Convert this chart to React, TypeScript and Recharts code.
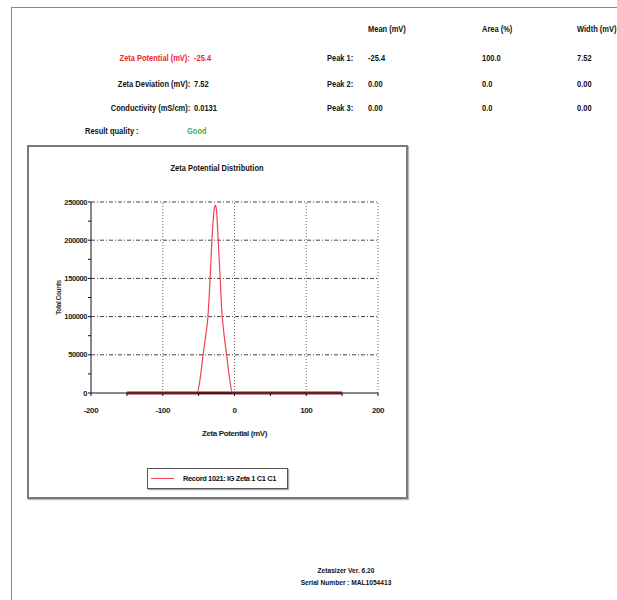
import React from 'react';
import { LineChart, Line, XAxis, YAxis, ReferenceLine } from 'recharts';

// Zeta potential distribution (mV vs total counts)
const zetaValues = [-150, -100, -60, -52, -48, -44, -40, -37, -34, -31, -28, -26.5, -25, -23, -20.5, -18, -15, -11, -7, -3, 0, 50, 100, 150];
const totalCounts = [0, 0, 0, 0, 18000, 48000, 76000, 100000, 150000, 208000, 242000, 246000, 238000, 205000, 160000, 112000, 80000, 50000, 20000, 0, 0, 0, 0, 0];

const xTicks = [-200, -150, -100, -50, 0, 50, 100, 150, 200];
const xGrid = [-100, 0, 100, 200];
const yTicks = [0, 25000, 50000, 75000, 100000, 125000, 150000, 175000, 200000, 225000, 250000];
const yGrid = [50000, 100000, 150000, 200000, 250000];

const summaryRows = [
  { label: 'Zeta Potential (mV):', value: '-25.4', color: '#e8262c' },
  { label: 'Zeta Deviation (mV):', value: '7.52', color: '#111' },
  { label: 'Conductivity (mS/cm):', value: '0.0131', color: '#111' },
];
const peakRows = [
  { name: 'Peak 1:', mean: '-25.4', area: '100.0', width: '7.52' },
  { name: 'Peak 2:', mean: '0.00', area: '0.0', width: '0.00' },
  { name: 'Peak 3:', mean: '0.00', area: '0.0', width: '0.00' },
];
const rowY = [58, 84, 108];

const seriesName = 'Record 1021: IG Zeta 1 C1 C1';

const FONT = "'Liberation Sans Narrow', 'Liberation Sans', Arial, sans-serif";
const SQUEEZE = 0.88;

const chartData = zetaValues.map((z, i) => ({ zeta: z, counts: totalCounts[i] }));

const Txt: React.FC<{ x: number; y: number; right?: boolean; center?: boolean; color?: string; size?: number; children: React.ReactNode }> = ({ x, y, right, center, color = '#111', size = 8.5, children }) => {
  const style: React.CSSProperties = {
    position: 'absolute',
    top: y - size * 0.62,
    fontSize: size,
    lineHeight: `${size * 1.2}px`,
    fontWeight: 'bold',
    color,
    whiteSpace: 'nowrap',
  };
  if (right) {
    style.right = 617 - x;
    style.transform = `scaleX(${SQUEEZE})`;
    style.transformOrigin = 'right center';
  } else if (center) {
    style.left = x;
    style.transform = `translateX(-50%) scaleX(${SQUEEZE})`;
    style.transformOrigin = 'center center';
  } else {
    style.left = x;
    style.transform = `scaleX(${SQUEEZE})`;
    style.transformOrigin = 'left center';
  }
  return <span style={style}>{children}</span>;
};

const tickStyle = { fontWeight: 'bold', fill: '#222', fontFamily: FONT, letterSpacing: -0.4 };

export default function App() {
  return (
    <div style={{ position: 'absolute', left: 0, top: 0, width: 617, height: 600, background: '#fff', fontFamily: FONT, overflow: 'hidden' }}>
      {/* page frame */}
      <div style={{ position: 'absolute', left: 11, top: 7, width: 620, height: 600, borderTop: '1.5px solid #8a8a8a', borderLeft: '1.5px solid #8a8a8a' }} />

      {/* result header */}
      <Txt x={368} y={29}>Mean (mV)</Txt>
      <Txt x={482} y={29}>Area (%)</Txt>
      <Txt x={577} y={29}>Width (mV)</Txt>
      {summaryRows.map((r, i) => (
        <React.Fragment key={r.label}>
          <Txt x={190} y={rowY[i]} right color={r.color}>{r.label}</Txt>
          <Txt x={194} y={rowY[i]} color={r.color}>{r.value}</Txt>
        </React.Fragment>
      ))}
      {peakRows.map((p, i) => (
        <React.Fragment key={p.name}>
          <Txt x={327} y={rowY[i]}>{p.name}</Txt>
          <Txt x={368} y={rowY[i]}>{p.mean}</Txt>
          <Txt x={482} y={rowY[i]}>{p.area}</Txt>
          <Txt x={577} y={rowY[i]}>{p.width}</Txt>
        </React.Fragment>
      ))}
      <Txt x={85} y={131}>Result quality :</Txt>
      <Txt x={187} y={131} color="#3cb54a">Good</Txt>

      {/* chart frame */}
      <div style={{ position: 'absolute', left: 27, top: 145, width: 377, height: 350, border: '2px solid #7a7a7a', boxShadow: '1px 1px 1px #bbb' }} />
      <Txt x={217} y={168} center size={8.5}>Zeta Potential Distribution</Txt>

      <div style={{ position: 'absolute', left: 27, top: 180 }}>
        <LineChart width={380} height={260} data={chartData} margin={{ top: 22, right: 29, left: 0, bottom: 0 }}>
          {yGrid.map(v => (
            <ReferenceLine key={'y' + v} y={v} stroke="#444" strokeDasharray="4 2 1 2" strokeWidth={1} />
          ))}
          {xGrid.map(v => (
            <ReferenceLine key={'x' + v} x={v} stroke="#666" strokeDasharray="1 2" strokeWidth={1} />
          ))}
          <XAxis
            dataKey="zeta"
            type="number"
            domain={[-200, 200]}
            ticks={xTicks}
            interval={0}
            height={47}
            tickSize={3}
            tickMargin={11}
            stroke="#111"
            tick={{ ...tickStyle, fontSize: 8 }}
            tickFormatter={(v: number) => (v % 100 === 0 ? String(v) : '')}
            label={{ value: 'Zeta Potential (mV)', position: 'insideBottom', offset: 4, style: { ...tickStyle, fontSize: 8 } }}
          />
          <YAxis
            type="number"
            domain={[0, 250000]}
            ticks={yTicks}
            interval={0}
            width={64}
            tickSize={3}
            tickMargin={1}
            stroke="#111"
            tick={{ ...tickStyle, fontSize: 7.5 }}
            tickFormatter={(v: number) => (v % 50000 === 0 ? String(v) : '')}
            label={{ value: 'Total Counts', angle: -90, position: 'insideLeft', offset: 32, style: { ...tickStyle, textAnchor: 'middle', fontSize: 6.5, fill: '#333' } }}
          />
          <ReferenceLine
            segment={[{ x: zetaValues[0], y: 0 }, { x: zetaValues[zetaValues.length - 1], y: 0 }]}
            stroke="#8e1b22"
            strokeWidth={3}
          />
          <Line type="monotone" dataKey="counts" stroke="#ec4452" strokeWidth={1.2} dot={false} isAnimationActive={false} />
        </LineChart>
      </div>

      {/* legend */}
      <div style={{ position: 'absolute', left: 147, top: 468, width: 139, height: 19, border: '1.5px solid #555', boxShadow: '1px 1px 1px #aaa', display: 'flex', alignItems: 'center', overflow: 'hidden' }}>
        <div style={{ marginLeft: 3, width: 23, height: 0, borderTop: '1.5px solid #ec4452', flexShrink: 0 }} />
        <span style={{ marginLeft: 9, fontSize: 7.5, fontWeight: 'bold', color: '#111', whiteSpace: 'nowrap', letterSpacing: -0.4 }}>{seriesName}</span>
      </div>

      {/* footer */}
      <Txt x={346} y={571} center size={7.5}>Zetasizer Ver. 6.20</Txt>
      <Txt x={346} y={583} center size={7.5}>Serial Number : MAL1054413</Txt>
    </div>
  );
}
